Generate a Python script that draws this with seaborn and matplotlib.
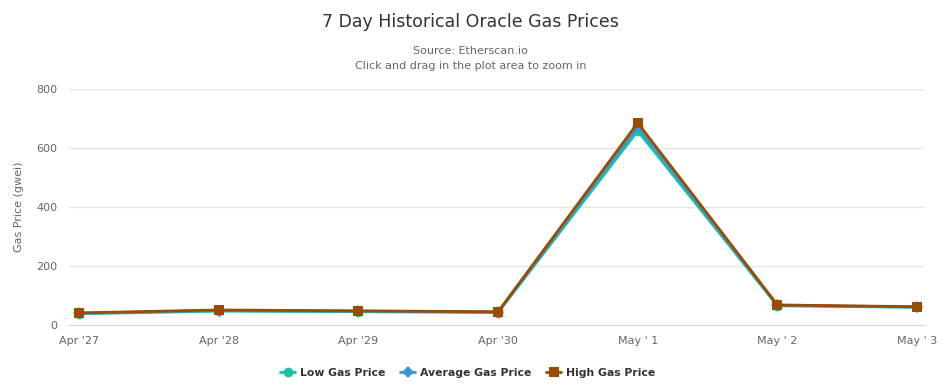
import matplotlib
matplotlib.use("Agg")
import matplotlib.pyplot as plt
import seaborn as sns
import numpy as np
import pandas as pd

# данные
days = ["Apr '27", "Apr '28", "Apr '29", "Apr '30", "May ' 1", "May ' 2", "May ' 3"]
low_price = [38, 47, 45, 42, 658, 65, 60]
avg_price = [40, 49, 47, 44, 671, 67, 61]
high_price = [41, 51, 48, 45, 685, 68, 62]

series_names = ["Low Gas Price", "Average Gas Price", "High Gas Price"]
colors = ["#17c3a2", "#3a98d8", "#9b4c00"]
markers = ["o", "D", "s"]

sns.set_style("white")
plt.rcParams['font.family'] = ['DejaVu Sans']

df = pd.DataFrame({"day": np.arange(len(days))})
df["Low Gas Price"] = low_price
df["Average Gas Price"] = avg_price
df["High Gas Price"] = high_price

fig = plt.figure(figsize=(9.41, 3.89), dpi=100)
ax = fig.add_axes([0.0733, 0.1645, 0.9087, 0.6067])

for name, c, m in zip(series_names, colors, markers):
    ms = 6 if m == "D" else 7
    sns.lineplot(data=df, x="day", y=name, color=c, marker=m, markersize=ms,
                 markeredgewidth=0, linewidth=2, ax=ax, label=name)

ax.set_xlim(-0.072, 6.05)
ax.set_ylim(0, 800)
ax.set_yticks([0, 200, 400, 600, 800])
ax.set_xticks(range(len(days)))
ax.set_xticklabels(days)
ax.yaxis.grid(True, color="#e6e6e6", linewidth=1)
ax.set_axisbelow(True)
for s in ["top", "right", "left"]:
    ax.spines[s].set_visible(False)
ax.spines["bottom"].set_color("#ccd6eb")
ax.tick_params(axis="x", colors="#ccd6eb", length=7, width=1, labelcolor="#666666", labelsize=8, pad=1)
ax.tick_params(axis="y", length=0, labelcolor="#666666", labelsize=8, pad=8.5)
ax.set_xlabel("")
ax.set_ylabel("Gas Price (gwei)", color="#666666", fontsize=8, labelpad=9)

fig.text(0.5, 0.943, "7 Day Historical Oracle Gas Prices", ha="center", va="center",
         fontsize=12.5, color="#333333")
fig.text(0.5, 0.869, "Source: Etherscan.io", ha="center", va="center", fontsize=8, color="#666666")
fig.text(0.5, 0.83, "Click and drag in the plot area to zoom in", ha="center", va="center",
         fontsize=8, color="#666666")

leg = ax.legend(loc="upper center", bbox_to_anchor=(0.466, -0.14), ncol=3, frameon=False,
                fontsize=7.8, handlelength=1.4, columnspacing=1.4, handletextpad=0.4)
for t in leg.get_texts():
    t.set_color("#333333")
    t.set_fontweight("bold")

fig.savefig("out.png", dpi=100)
